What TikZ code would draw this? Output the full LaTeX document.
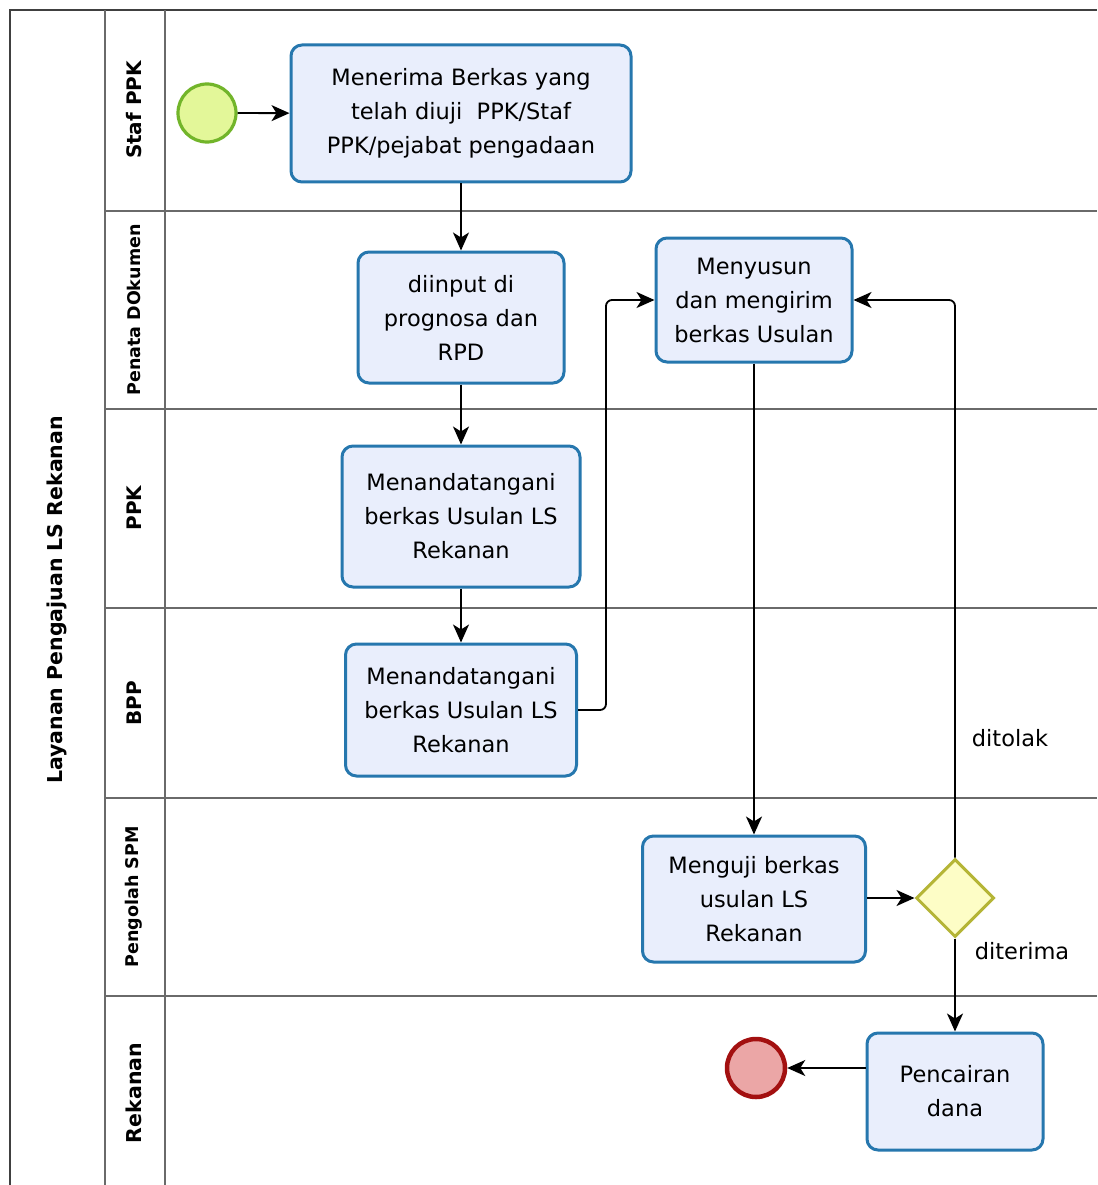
\documentclass[tikz,border=0pt]{standalone}
\usepackage{fontspec}
\setmainfont{DejaVu Sans}
\usetikzlibrary{arrows.meta,shapes.geometric}
\definecolor{taskfill}{HTML}{E9EEFC}
\definecolor{taskdraw}{HTML}{2677AE}
\definecolor{startfill}{HTML}{E3F799}
\definecolor{startdraw}{HTML}{72B52A}
\definecolor{gwfill}{HTML}{FDFDC6}
\definecolor{gwdraw}{HTML}{B5B536}
\definecolor{endfill}{HTML}{EBA6A6}
\definecolor{enddraw}{HTML}{A31010}
\definecolor{laneline}{HTML}{6A6A6A}
\begin{document}
\begin{tikzpicture}[x=1pt,y=-1pt,
  lane/.style={draw=laneline,line width=1.8pt},
  task/.style={draw=taskdraw,fill=taskfill,line width=3pt,rounded corners=11pt,align=center,inner sep=0pt,font=\fontsize{22.5}{34}\selectfont},
  flow/.style={draw=black,line width=1.8pt,-{Stealth[length=18pt,width=16pt,inset=5pt]},rounded corners=6pt},
  lbl/.style={font=\fontsize{22.5}{27}\selectfont},
  lanelbl/.style={rotate=90,font=\bfseries\fontsize{19}{22}\selectfont}
]
\useasboundingbox (0,0) rectangle (1097,1185);
\fill[white] (0,0) rectangle (1097,1185);
% pool and lanes
\draw[lane,draw=black!75] (10,1185) -- (10,10) -- (1097,10);
\draw[lane] (105,10) -- (105,1185);
\draw[lane] (165,10) -- (165,1185);
\foreach \yy in {211,409,608,798,996} \draw[lane] (105,\yy) -- (1097,\yy);
\node[rotate=90,font=\bfseries\fontsize{20.5}{24}\selectfont] (pool) at (57,600) {Layanan Pengajuan LS Rekanan};
\node[lanelbl,font=\bfseries\fontsize{20}{24}\selectfont] (l1) at (134,110) {Staf PPK};
\node[lanelbl,font=\bfseries\fontsize{17.5}{22}\selectfont] (l2) at (134,310) {Penata DOkumen};
\node[lanelbl,font=\bfseries\fontsize{20}{24}\selectfont] (l3) at (134,508) {PPK};
\node[lanelbl,font=\bfseries\fontsize{20}{24}\selectfont] (l4) at (134,703) {BPP};
\node[lanelbl,font=\bfseries\fontsize{17.5}{22}\selectfont] (l5) at (134,897) {Pengolah SPM};
\node[lanelbl,font=\bfseries\fontsize{20.5}{24}\selectfont] (l6) at (134,1093) {Rekanan};
% events
\node[circle,draw=startdraw,fill=startfill,line width=3.2pt,minimum size=58pt,inner sep=0pt] (s) at (207,113) {};
\node[circle,draw=enddraw,fill=endfill,line width=4.5pt,minimum size=58pt,inner sep=0pt] (e) at (756,1068) {};
% tasks
\node[task,minimum width=340pt,minimum height=137pt] (t1) at (461,113.5) {Menerima Berkas yang\\telah diuji\ \ PPK/Staf\\PPK/pejabat pengadaan};
\node[task,minimum width=206pt,minimum height=131pt] (t2) at (461,317.5) {diinput di\\prognosa dan\\RPD};
\node[task,minimum width=196pt,minimum height=124pt] (t3) at (754,300) {Menyusun\\dan mengirim\\berkas Usulan};
\node[task,minimum width=238pt,minimum height=141pt] (t4) at (461,516.5) {Menandatangani\\berkas Usulan LS\\Rekanan};
\node[task,minimum width=231pt,minimum height=132pt] (t5) at (461,710) {Menandatangani\\berkas Usulan LS\\Rekanan};
\node[task,minimum width=223pt,minimum height=126pt] (t6) at (754,899) {Menguji berkas\\usulan LS\\Rekanan};
\node[task,minimum width=176pt,minimum height=117pt] (t7) at (955,1091.5) {Pencairan\\dana};
% gateway
\node[diamond,draw=gwdraw,fill=gwfill,line width=3pt,minimum width=78pt,minimum height=78pt,inner sep=0pt,aspect=1] (g) at (955,898) {};
% connectors
\draw[flow] (s) -- (t1);
\draw[flow] (t1) -- (t2);
\draw[flow] (t2) -- (t4);
\draw[flow] (t4) -- (t5);
\draw[flow] (t5.east) -- ++(28,0) |- (t3.west);
\draw[flow] (t3.south) -- (t3.south |- t6.north);
\draw[flow] (t6.east |- g) -- (g.west);
\draw[flow] (g.north) |- (t3.east);
\draw[flow] (g.south) -- (t7.north);
\draw[flow] (e -| t7.west) -- (e.east);
\node[lbl] (dt) at (1010,738) {ditolak};
\node[lbl] (dr) at (1022,951) {diterima};
\end{tikzpicture}
\end{document}
